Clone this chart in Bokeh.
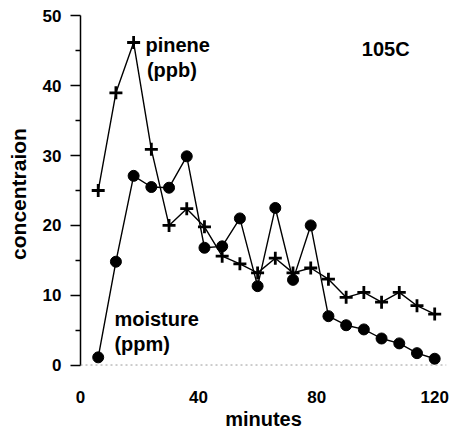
from bokeh.plotting import figure
from bokeh.models import Label, Span, FixedTicker
from bokeh.embed import file_html
from bokeh.resources import INLINE

minutes = [6, 12, 18, 24, 30, 36, 42, 48, 54, 60, 66, 72, 78, 84, 90, 96, 102, 108, 114, 120]
pinene = [25.0, 39.0, 46.2, 30.9, 20.0, 22.4, 19.8, 15.6, 14.5, 13.2, 15.3, 13.2, 13.9, 12.3, 9.7, 10.4, 9.0, 10.4, 8.5, 7.3]
moisture = [1.1, 14.8, 27.1, 25.5, 25.4, 29.9, 16.8, 17.0, 21.0, 11.3, 22.5, 12.2, 20.0, 7.0, 5.7, 5.1, 3.8, 3.1, 1.7, 0.9]
x_ticks = [0, 40, 80, 120]
y_ticks = [0, 10, 20, 30, 40, 50]

FONT = "Liberation Sans"

p = figure(width=452, height=432, output_backend="svg", toolbar_location=None,
           x_range=(0, 124), y_range=(-1.5, 50.5),
           min_border_left=80, min_border_right=6, min_border_top=12, min_border_bottom=53)
p.outline_line_color = None
p.grid.visible = False
p.background_fill_color = "white"
p.border_fill_color = "white"

# y axis
ya = p.yaxis[0]
ya.ticker = FixedTicker(ticks=y_ticks, minor_ticks=[5, 15, 25, 35, 45])
ya.bounds = (0, 50)
ya.axis_line_color = "black"
ya.axis_line_width = 1.5
ya.major_tick_out = 10
ya.major_tick_in = 0
ya.major_tick_line_width = 1.5
ya.minor_tick_out = 5
ya.minor_tick_in = 0
ya.minor_tick_line_width = 1.5
ya.major_label_text_font = FONT
ya.major_label_text_font_style = "bold"
ya.major_label_text_font_size = "17px"
ya.major_label_text_color = "black"
ya.major_label_standoff = 9
ya.axis_label = "concentraion"
ya.axis_label_text_font = FONT
ya.axis_label_text_font_style = "bold"
ya.axis_label_text_font_size = "21px"
ya.axis_label_text_color = "black"
ya.axis_label_standoff = 10

# x axis
xa = p.xaxis[0]
xa.ticker = FixedTicker(ticks=x_ticks)
xa.axis_line_color = None
xa.major_tick_line_color = None
xa.minor_tick_line_color = None
xa.major_label_text_font = FONT
xa.major_label_text_font_style = "bold"
xa.major_label_text_font_size = "17px"
xa.major_label_text_color = "black"
xa.major_label_standoff = 9
xa.axis_label = "minutes"
xa.axis_label_text_font = FONT
xa.axis_label_text_font_style = "bold"
xa.axis_label_text_font_size = "20px"
xa.axis_label_text_color = "black"
xa.axis_label_standoff = 2

# faint dotted baseline at zero
p.add_layout(Span(location=0, dimension="width", line_color="#9a9a9a",
                  line_dash="2 3", line_width=1))

# pinene
p.line(minutes, pinene, line_color="black", line_width=1.4)
p.scatter(minutes, pinene, marker="cross", size=13, line_color="black", line_width=2.8)

# moisture
p.line(minutes, moisture, line_color="black", line_width=1.4)
p.scatter(minutes, moisture, marker="circle", size=11, fill_color="black", line_color="black")

def lab(x, y, t, size, style):
    p.add_layout(Label(x=x, y=y, text=t, text_font=FONT, text_font_size=size,
                       text_font_style=style, text_color="black",
                       text_align="left", text_baseline="alphabetic"))

lab(22.0, 45.8, "pinene", "20px", "bold")
lab(22.5, 42.3, "(ppb)", "20px", "bold")
lab(11.5, 6.6, "moisture", "20px", "bold")
lab(11.5, 3.05, "(ppm)", "20px", "bold")
lab(95.3, 45.3, "105C", "20px", "bold")

open("out.html", "w").write(file_html(p, INLINE))
